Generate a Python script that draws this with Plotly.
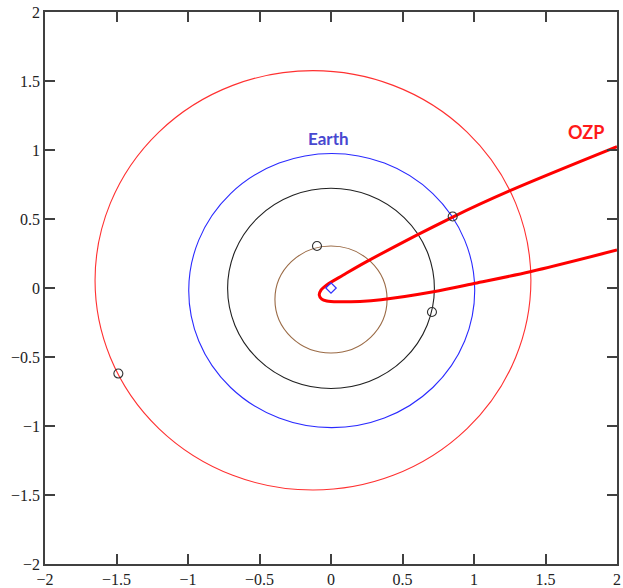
import plotly.graph_objects as go

# Orbit ellipses (bounding boxes in AU): name, x0, x1, y0, y1, colour
orbit_names = ["Mercury", "Venus", "Earth", "Mars"]
orbit_x0 = [-0.392, -0.723, -0.995, -1.650]
orbit_x1 = [0.392, 0.723, 1.005, 1.398]
orbit_y0 = [-0.471, -0.728, -1.012, -1.464]
orbit_y1 = [0.304, 0.723, 0.975, 1.575]
orbit_colors = ["#9a6a45", "#202020", "#2a2aff", "#ff3030"]

# Planet positions
planet_x = [-0.098, 0.706, 0.851, -1.487]
planet_y = [0.304, -0.174, 0.518, -0.620]

# Sun
sun_x = [0.0]
sun_y = [0.0]

# Comet OZP trajectory
comet_x = [2.0, 1.252, 0.851, 0.249, 0.086, -0.03, -0.07, -0.082,
           -0.065, -0.03, 0.05, 0.203, 0.35, 0.716, 1.007, 1.392, 2.0]
comet_y = [1.024, 0.705, 0.514, 0.191, 0.094, 0.022, -0.015, -0.051,
           -0.08, -0.094, -0.100, -0.097, -0.085, -0.027, 0.034, 0.118, 0.275]

tick_vals = [-2, -1.5, -1, -0.5, 0, 0.5, 1, 1.5, 2]

fig = go.Figure()

shapes = []
for x0, x1, y0, y1, c in zip(orbit_x0, orbit_x1, orbit_y0, orbit_y1, orbit_colors):
    shapes.append(dict(type="circle", xref="x", yref="y", x0=x0, x1=x1, y0=y0, y1=y1,
                       line=dict(color=c, width=1.1), layer="below"))

fig.add_trace(go.Scatter(x=comet_x, y=comet_y, mode="lines",
                         line=dict(color="#ff0000", width=3, shape="spline", smoothing=0.9),
                         showlegend=False, hoverinfo="skip"))

fig.add_trace(go.Scatter(x=planet_x, y=planet_y, mode="markers",
                         marker=dict(symbol="circle-open", size=9, color="#303030",
                                     line=dict(width=1.1, color="#303030")),
                         showlegend=False))

fig.add_trace(go.Scatter(x=sun_x, y=sun_y, mode="markers",
                         marker=dict(symbol="diamond-open", size=8, color="#3030ff",
                                     line=dict(width=1.2, color="#3030ff")),
                         showlegend=False))

axis_common = dict(range=[-2, 2], tickvals=tick_vals, ticks="inside", ticklen=10,
                   tickwidth=1.5, tickcolor="#404040", showline=True, linecolor="#404040",
                   linewidth=1.5, mirror="ticks", showgrid=False, zeroline=False,
                   automargin=False, ticklabeloverflow="allow",
                   tickfont=dict(family="Liberation Serif, Times New Roman, serif",
                                 size=16, color="#222222"))

fig.update_layout(
    width=623, height=588,
    margin=dict(l=45, r=6, t=12, b=24),
    paper_bgcolor="white", plot_bgcolor="white",
    shapes=shapes,
    xaxis=dict(**axis_common),
    yaxis=dict(**axis_common),
    annotations=[
        dict(x=-0.021, y=1.08, xref="x", yref="y", text="<b>Earth</b>", showarrow=False,
             font=dict(family="Lato", size=17, color="#4848d0")),
        dict(x=1.783, y=1.13, xref="x", yref="y", text="<b>OZP</b>", showarrow=False,
             font=dict(family="Lato", size=18, color="#ff1a1a")),
    ],
)

fig.write_html("out.html", config={"displayModeBar": False},
               post_script="document.body.style.margin='0';document.body.style.overflow='hidden';")
